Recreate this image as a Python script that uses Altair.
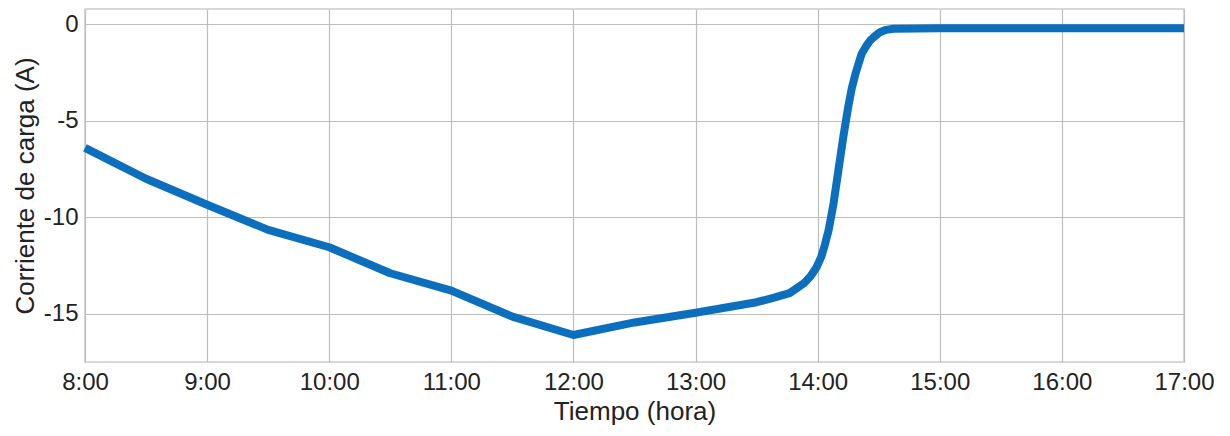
import altair as alt
import pandas as pd

hours = [8.0, 8.5, 9.0, 9.5, 10.0, 10.5, 11.0, 11.5, 12.0, 12.5, 13.0, 13.5,
         13.65, 13.77, 13.83, 13.89, 13.94, 13.99, 14.03, 14.06, 14.09, 14.13,
         14.17, 14.21, 14.25, 14.28, 14.31, 14.36, 14.40, 14.43, 14.47, 14.51,
         14.56, 14.62, 15.0, 16.0, 17.0]
current = [-6.4, -8.0, -9.35, -10.65, -11.55, -12.9, -13.8, -15.15, -16.1, -15.45,
           -14.95, -14.4, -14.15, -13.93, -13.67, -13.4, -13.07, -12.6, -12.04,
           -11.4, -10.66, -9.28, -7.55, -5.83, -4.28, -3.3, -2.55, -1.52, -1.1,
           -0.83, -0.6, -0.40, -0.28, -0.22, -0.2, -0.2, -0.2]
x_ticks = [8, 9, 10, 11, 12, 13, 14, 15, 16, 17]
y_ticks = [0, -5, -10, -15]

df = pd.DataFrame({"hora": hours, "corriente": current})

FONT = "Liberation Sans"

chart = alt.Chart(df).mark_line(
    color="#0b6fbd", strokeWidth=8, interpolate="linear", strokeJoin="round"
).encode(
    x=alt.X("hora:Q",
            scale=alt.Scale(domain=[8, 17], nice=False, zero=False),
            axis=alt.Axis(values=x_ticks, labelExpr="datum.value + ':00'",
                          title="Tiempo (hora)", tickSize=0, labelPadding=8,
                          titlePadding=4, domain=False)),
    y=alt.Y("corriente:Q",
            scale=alt.Scale(domain=[-17.5, 0.8], nice=False, zero=False),
            axis=alt.Axis(values=y_ticks, labelExpr="'' + datum.value",
                          title="Corriente de carga (A)",
                          tickSize=0, labelPadding=7, titleX=-47,
                          domain=False)),
).properties(
    width=1099, height=353,
    autosize=alt.AutoSizeParams(type="none"),
    padding={"left": 77, "top": 1, "right": 30, "bottom": 65},
).configure_view(
    stroke="#cccccc", strokeWidth=1.5
).configure_axis(
    gridColor="#bdbdbd", gridWidth=1.2,
    labelFont=FONT, titleFont=FONT, labelFontSize=24, titleFontSize=26,
    labelColor="#222222", titleColor="#222222", titleFontWeight="normal",
    labelFlush=False
)

chart.save("out.html", embed_options={"renderer": "svg", "actions": False})
